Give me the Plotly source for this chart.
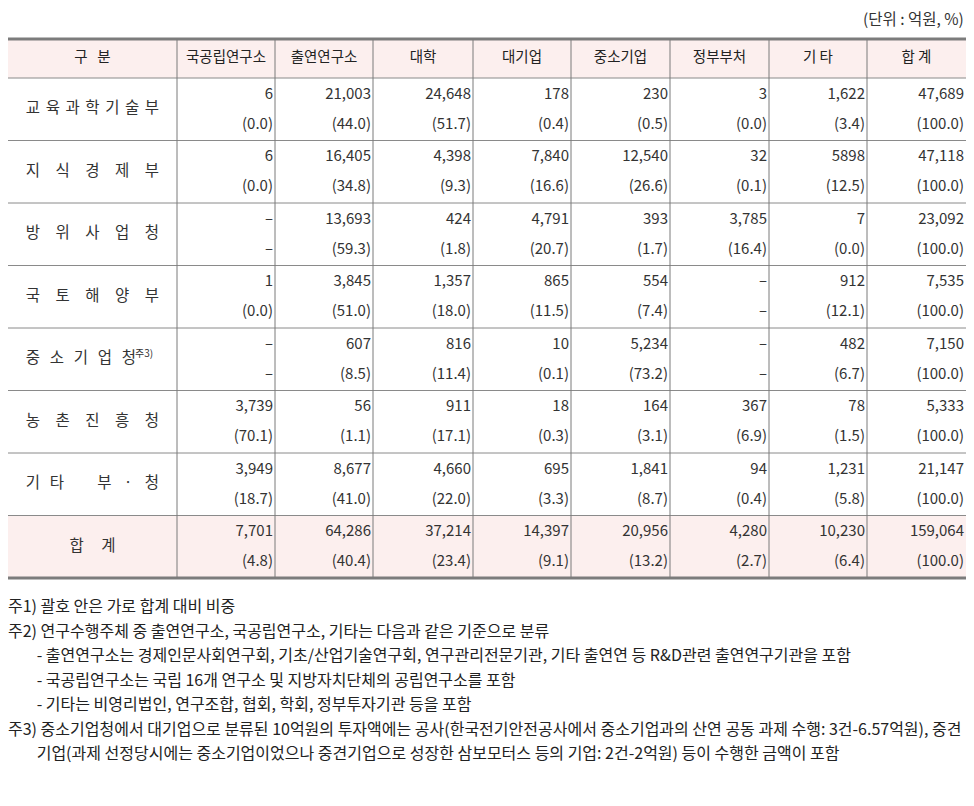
import plotly.graph_objects as go

# 연구수행주체별 부처 R&D 투자 (단위: 억원, %)
columns = ["국공립연구소", "출연연구소", "대학", "대기업", "중소기업", "정부부처", "기 타", "합 계"]
row_labels = [
    ["교", "육", "과", "학", "기", "술", "부"],
    ["지", "식", "경", "제", "부"],
    ["방", "위", "사", "업", "청"],
    ["국", "토", "해", "양", "부"],
    ["중", "소", "기", "업", "청"],
    ["농", "촌", "진", "흥", "청"],
    ["기", "타", " ", "부", "·", "청"],
]
amounts = [
    ["6", "21,003", "24,648", "178", "230", "3", "1,622", "47,689"],
    ["6", "16,405", "4,398", "7,840", "12,540", "32", "5898", "47,118"],
    ["–", "13,693", "424", "4,791", "393", "3,785", "7", "23,092"],
    ["1", "3,845", "1,357", "865", "554", "–", "912", "7,535"],
    ["–", "607", "816", "10", "5,234", "–", "482", "7,150"],
    ["3,739", "56", "911", "18", "164", "367", "78", "5,333"],
    ["3,949", "8,677", "4,660", "695", "1,841", "94", "1,231", "21,147"],
]
shares = [
    ["(0.0)", "(44.0)", "(51.7)", "(0.4)", "(0.5)", "(0.0)", "(3.4)", "(100.0)"],
    ["(0.0)", "(34.8)", "(9.3)", "(16.6)", "(26.6)", "(0.1)", "(12.5)", "(100.0)"],
    ["–", "(59.3)", "(1.8)", "(20.7)", "(1.7)", "(16.4)", "(0.0)", "(100.0)"],
    ["(0.0)", "(51.0)", "(18.0)", "(11.5)", "(7.4)", "–", "(12.1)", "(100.0)"],
    ["–", "(8.5)", "(11.4)", "(0.1)", "(73.2)", "–", "(6.7)", "(100.0)"],
    ["(70.1)", "(1.1)", "(17.1)", "(0.3)", "(3.1)", "(6.9)", "(1.5)", "(100.0)"],
    ["(18.7)", "(41.0)", "(22.0)", "(3.3)", "(8.7)", "(0.4)", "(5.8)", "(100.0)"],
]
total_amounts = ["7,701", "64,286", "37,214", "14,397", "20,956", "4,280", "10,230", "159,064"]
total_shares = ["(4.8)", "(40.4)", "(23.4)", "(9.1)", "(13.2)", "(2.7)", "(6.4)", "(100.0)"]

notes = [
    "주1) 괄호 안은 가로 합계 대비 비중",
    "주2) 연구수행주체 중 출연연구소, 국공립연구소, 기타는 다음과 같은 기준으로 분류",
    "        - 출연연구소는 경제인문사회연구회, 기초/산업기술연구회, 연구관리전문기관, 기타 출연연 등 R&D관련 출연연구기관을 포함",
    "        - 국공립연구소는 국립 16개 연구소 및 지방자치단체의 공립연구소를 포함",
    "        - 기타는 비영리법인, 연구조합, 협회, 학회, 정부투자기관 등을 포함",
    "주3) 중소기업청에서 대기업으로 분류된 10억원의 투자액에는 공사(한국전기안전공사에서 중소기업과의 산연 공동 과제 수행: 3건-6.57억원), 중견",
    "        기업(과제 선정당시에는 중소기업이었으나 중견기업으로 성장한 삼보모터스 등의 기업: 2건-2억원) 등이 수행한 금액이 포함",
]

# grid (pixel units on the axes; page body has an 8px margin)
left = 8
first_w = 169
col_w = [98, 98, 100, 98, 99, 99, 98, 99]
top = 39
head_h = 39
row_h = 62.5

xb = [left, left + first_w]
for w in col_w:
    xb.append(xb[-1] + w)
n_rows = len(row_labels) + 1
yb = [top, top + head_h] + [top + head_h + row_h * (i + 1) for i in range(n_rows)]

FONT = "Noto Sans CJK KR"
TXT = "#333333"
PINK = "#fcefee"
LINE = "#8a8a8a"

fig = go.Figure()

shapes = []
# header and total row backgrounds
shapes.append(dict(type="rect", x0=xb[0], x1=xb[-1], y0=yb[0], y1=yb[1],
                   fillcolor=PINK, line_width=0, layer="below"))
shapes.append(dict(type="rect", x0=xb[0], x1=xb[-1], y0=yb[-2], y1=yb[-1],
                   fillcolor=PINK, line_width=0, layer="below"))
# horizontal lines
for y in yb[1:-1]:
    shapes.append(dict(type="line", x0=xb[0], x1=xb[-1], y0=y, y1=y,
                       line=dict(color=LINE, width=1)))
for y in (yb[0], yb[-1]):
    shapes.append(dict(type="line", x0=xb[0], x1=xb[-1], y0=y, y1=y,
                       line=dict(color="#7c7c7c", width=3)))
# vertical lines
for x in xb[1:-1]:
    shapes.append(dict(type="line", x0=x, x1=x, y0=yb[0], y1=yb[-1],
                       line=dict(color="#7a7a7a", width=1)))

# header row
hx = [(xb[i] + xb[i + 1]) / 2 for i in range(len(xb) - 1)]
hy = (yb[0] + yb[1]) / 2
fig.add_trace(go.Scatter(
    x=hx, y=[hy] * len(hx), mode="text", text=["구&nbsp;&nbsp;&nbsp;분"] + columns,
    textfont=dict(family=FONT, size=14.5, color="#222222"),
    textposition="middle center", hoverinfo="skip", showlegend=False))

# row labels, spread over the first column one syllable at a time
lab_x, lab_y, lab_t = [], [], []
for r, chars in enumerate(row_labels):
    x0, x1 = xb[0] + 25, xb[1] - 25
    if r == 4:
        x1 = xb[1] - 48
    n = len(chars)
    for k, ch in enumerate(chars):
        lab_x.append(x0 + (x1 - x0) * k / (n - 1))
        lab_y.append((yb[r + 1] + yb[r + 2]) / 2)
        lab_t.append(ch)
lab_x.append((xb[0] + xb[1]) / 2)
lab_y.append((yb[-2] + yb[-1]) / 2)
lab_t.append("합&nbsp;&nbsp;&nbsp;&nbsp;&nbsp;계")
fig.add_trace(go.Scatter(
    x=lab_x, y=lab_y, mode="text", text=lab_t,
    textfont=dict(family=FONT, size=15.5, color=TXT),
    textposition="middle center", hoverinfo="skip", showlegend=False))

# superscript note mark
fig.add_annotation(x=xb[1] - 44, y=(yb[5] + yb[6]) / 2 - 7, text="주3)",
                   showarrow=False, xanchor="left",
                   font=dict(family=FONT, size=10, color=TXT))

# values
all_amounts = amounts + [total_amounts]
all_shares = shares + [total_shares]
for c in range(len(columns)):
    xs, ys, ts = [], [], []
    for r in range(n_rows):
        rt = yb[r + 1]
        xs += [xb[c + 2] - 2, xb[c + 2] - 2]
        ys += [rt + 17, rt + 47]
        ts += [all_amounts[r][c], all_shares[r][c]]
    fig.add_trace(go.Scatter(
        x=xs, y=ys, mode="text", text=ts,
        textfont=dict(family=FONT, size=15, color=TXT),
        textposition="middle left", hoverinfo="skip", showlegend=False))

# unit
fig.add_annotation(x=xb[-1], y=18, text="(단위&nbsp;:&nbsp;억원,&nbsp;%)", showarrow=False,
                   xanchor="right", font=dict(family=FONT, size=15.5, color=TXT))

# footnotes
for i, t in enumerate(notes):
    fig.add_annotation(x=left, xshift=-2, y=605 + 24.5 * i,
                       text=t.replace(" ", "&nbsp;") if t.startswith(" ") else t,
                       showarrow=False, xanchor="left",
                       font=dict(family=FONT, size=16, color="#222222"))

fig.update_layout(
    width=958, height=790,
    margin=dict(l=0, r=0, t=0, b=0),
    paper_bgcolor="white", plot_bgcolor="white",
    shapes=shapes,
    xaxis=dict(range=[8, 966], visible=False, fixedrange=True),
    yaxis=dict(range=[798, 8], visible=False, fixedrange=True),
)

fig.write_html("out.html")
